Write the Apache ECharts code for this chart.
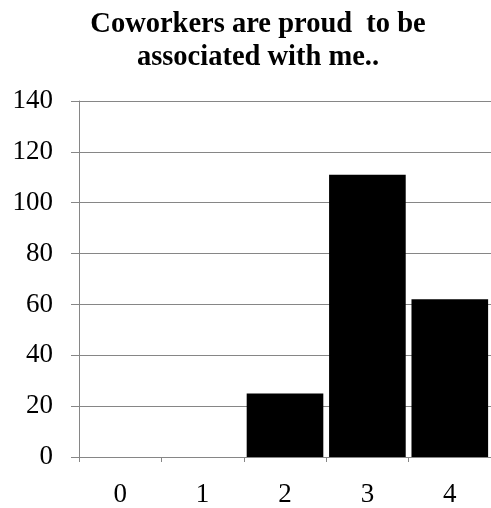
<!DOCTYPE html>
<html>
<head>
<meta charset="utf-8">
<script src="https://cdn.jsdelivr.net/npm/echarts@6/dist/echarts.min.js"></script>
<style>
  html, body { margin: 0; padding: 0; background: #ffffff; }
  #chart { width: 491px; height: 508px; }
</style>
</head>
<body>
<div id="chart"></div>
<script>
// Response scores and how many people gave each one
const categories = ['0', '1', '2', '3', '4'];
const counts = [0, 0, 25, 111, 62];
const titleText = 'Coworkers are proud  to be\nassociated with me..';

const serif = '"Liberation Serif", "Times New Roman", serif';

const chart = echarts.init(document.getElementById('chart'), null, { renderer: 'canvas' });
chart.setOption({
  backgroundColor: '#ffffff',
  animation: false,
  title: {
    text: titleText,
    left: 253,
    textAlign: 'center',
    top: 3,
    textStyle: {
      fontFamily: serif,
      fontWeight: 'bold',
      fontSize: 28.5,
      lineHeight: 33,
      color: '#000000'
    }
  },
  grid: { left: 79, top: 101, width: 414, bottom: 51, containLabel: false },
  xAxis: {
    type: 'category',
    data: categories,
    axisLine: { lineStyle: { color: '#868686', width: 1 } },
    axisTick: { show: true, length: 5, alignWithLabel: false, lineStyle: { color: '#868686' } },
    axisLabel: { fontFamily: serif, fontSize: 27, color: '#000000', margin: 24 },
    splitLine: { show: false }
  },
  yAxis: {
    type: 'value',
    min: 0,
    max: 140,
    interval: 20,
    axisLine: { show: true, lineStyle: { color: '#868686', width: 1 } },
    axisTick: { show: true, length: 8, lineStyle: { color: '#868686' } },
    axisLabel: { fontFamily: serif, fontSize: 27, color: '#000000', margin: 26 },
    splitLine: { show: true, lineStyle: { color: '#868686', width: 1 } }
  },
  series: [{
    type: 'bar',
    data: counts,
    barCategoryGap: '7%',
    itemStyle: { color: '#000000' }
  }]
});
</script>
</body>
</html>
